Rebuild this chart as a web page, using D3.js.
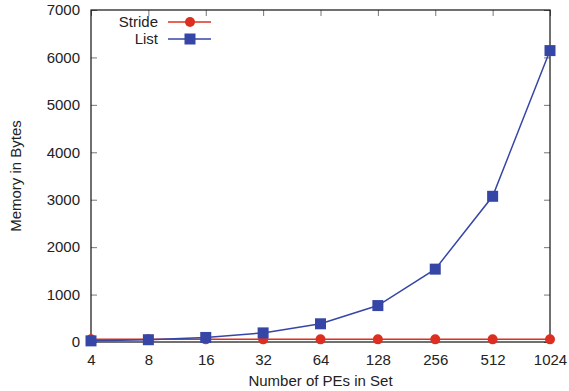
<!DOCTYPE html>
<html>
<head>
<meta charset="utf-8">
<script src="https://cdn.jsdelivr.net/npm/d3@7"></script>
<style>
body { margin: 0; background: #fff; }
text { font-family: "Liberation Sans", Arial, sans-serif; fill: #222; }
</style>
</head>
<body>
<svg id="chart" width="569" height="391"></svg>
<script>
// values
const peCounts = ["4", "8", "16", "32", "64", "128", "256", "512", "1024"];
const strideBytes = [56, 56, 56, 56, 56, 56, 56, 56, 56];
const listBytes = [24, 48, 96, 192, 384, 768, 1536, 3072, 6144];
const yTicks = [0, 1000, 2000, 3000, 4000, 5000, 6000, 7000];

const width = 569, height = 391;
const margin = {top: 10, right: 19, bottom: 49, left: 91};
const w = width - margin.left - margin.right;
const h = height - margin.top - margin.bottom;

const svg = d3.select("#chart");
const g = svg.append("g").attr("transform", "translate(" + margin.left + "," + margin.top + ")");

const x = d3.scalePoint().domain(peCounts).range([0, w]);
const y = d3.scaleLinear().domain([0, 7000]).range([h, 0]);

// axes, ticks pointing inwards and mirrored
const xAxis = d3.axisBottom(x).tickSize(-6).tickPadding(12);
const yAxis = d3.axisLeft(y).tickValues(yTicks).tickFormat(d3.format("d")).tickSize(-6).tickPadding(11);

g.append("g").attr("transform", "translate(0," + h + ")").call(xAxis);
g.append("g").call(yAxis);
g.append("g").call(d3.axisTop(x).tickSize(-6).tickFormat(""));
g.append("g").attr("transform", "translate(" + w + ",0)")
    .call(d3.axisRight(y).tickValues(yTicks).tickSize(-6).tickFormat(""));

g.selectAll(".domain").remove();
g.selectAll(".tick line").attr("stroke", "#777").attr("stroke-width", 1);
g.selectAll(".tick text").style("font-size", "15px").attr("fill", "#222");

g.append("rect")
    .attr("width", w).attr("height", h)
    .attr("fill", "none").attr("stroke", "#111").attr("stroke-width", 1.2);

const red = "#dc2f22", blue = "#3546a6";

const line = d3.line()
    .x((d, i) => x(peCounts[i]))
    .y(d => y(d));

g.append("path").datum(strideBytes)
    .attr("fill", "none").attr("stroke", red).attr("stroke-width", 1.5)
    .attr("d", line);
g.append("path").datum(listBytes)
    .attr("fill", "none").attr("stroke", blue).attr("stroke-width", 1.5)
    .attr("d", line);

g.selectAll("circle.stride").data(strideBytes).enter().append("circle")
    .attr("class", "stride")
    .attr("cx", (d, i) => x(peCounts[i]))
    .attr("cy", d => y(d))
    .attr("r", 5)
    .attr("fill", red);

g.selectAll("rect.list").data(listBytes).enter().append("rect")
    .attr("class", "list")
    .attr("x", (d, i) => x(peCounts[i]) - 5.5)
    .attr("y", d => y(d) - 5.5)
    .attr("width", 11).attr("height", 11)
    .attr("fill", blue);

// legend
const legend = [{name: "Stride", color: red, shape: "circle"}, {name: "List", color: blue, shape: "square"}];
const lg = svg.append("g");
legend.forEach(function(d, i) {
    const ly = 22 + i * 17;
    lg.append("text").attr("x", 158).attr("y", ly + 5)
        .attr("text-anchor", "end").style("font-size", "15px").text(d.name);
    lg.append("line").attr("x1", 168).attr("x2", 211).attr("y1", ly).attr("y2", ly)
        .attr("stroke", d.color).attr("stroke-width", 1.5);
    if (d.shape == "circle") {
        lg.append("circle").attr("cx", 190).attr("cy", ly).attr("r", 5).attr("fill", d.color);
    } else {
        lg.append("rect").attr("x", 184.5).attr("y", ly - 5.5).attr("width", 11).attr("height", 11).attr("fill", d.color);
    }
});

// axis titles
svg.append("text")
    .attr("x", margin.left + w / 2).attr("y", 386)
    .attr("text-anchor", "middle").style("font-size", "15px")
    .text("Number of PEs in Set");
svg.append("text")
    .attr("transform", "translate(21," + (margin.top + h / 2) + ") rotate(-90)")
    .attr("text-anchor", "middle").style("font-size", "15px")
    .text("Memory in Bytes");
</script>
</body>
</html>
